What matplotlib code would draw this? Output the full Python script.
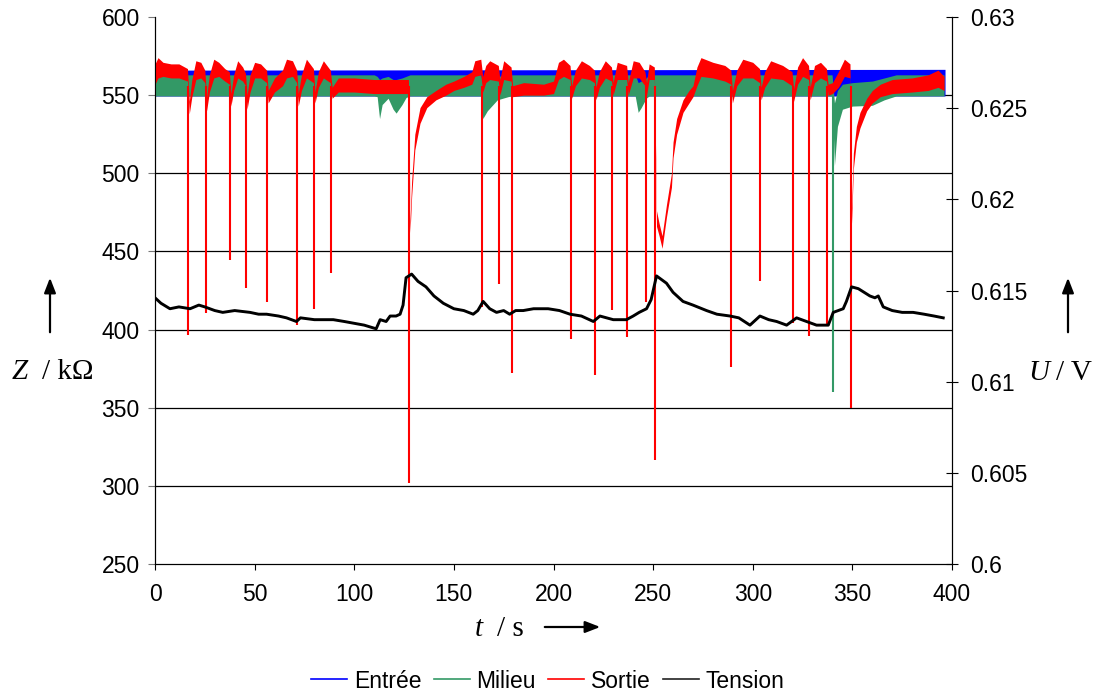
import numpy as np
import matplotlib
matplotlib.use("Agg")
from matplotlib import pyplot as plt

plt.rcParams['font.family'] = ['Liberation Sans', 'DejaVu Sans']

# --- Entree (blue) : dense band
blue_t = [0, 396.5]
blue_lo = [549.5, 549.5]
blue_hi = [566.0, 566.5]

# --- Milieu (green) : dense band with a few dips
green_t = [0, 110, 111.5, 112.7, 114, 117, 119.5, 121, 124, 126, 128,
           163.5, 164.5, 166.8, 171.8, 178.5, 241, 242.5, 244, 246.5, 248,
           339.8, 341, 342.5, 345, 350, 360, 366, 372, 396]
green_lo = [549.5, 549.5, 549, 535, 544, 548, 541, 538.5, 544, 548.5, 549.5,
            549.5, 535, 540, 547, 549.5, 549.5, 539, 542, 548, 549.5,
            549.5, 505, 530, 541, 543, 543.5, 547, 549.5, 549.5]
green_hi = [563, 563, 562, 560, 561, 562, 560, 560, 561, 562, 563,
            563, 558, 560, 562, 563, 563, 558, 559, 561, 563,
            563, 545, 553, 557, 558, 559, 561, 563, 563]
green_spike_t = [340.4]
green_spike_z = [360]

# --- Sortie (red) : band + sharp drops
red_t = [0, 1.5, 4, 8, 12, 16.3, 17.2, 18.5, 20.5, 23, 25.0, 25.9, 27.3, 29.5, 32, 35, 37.3,
         38.1, 39.5, 41.5, 44, 45.4, 46.2, 47.7, 50, 53, 56.0, 56.8, 60, 64, 66, 69, 71.1,
         71.9, 73.5, 76, 79.5, 80.3, 82, 84.5, 88, 88.9, 92, 100, 110, 120, 127.2,
         128.0, 128.8, 130.4, 133, 136.4, 141, 146, 150, 155, 159, 160.5, 163.5,
         164.5, 166, 168, 172.3, 173.1, 175, 178.7, 179.5, 185, 195, 200, 202.5, 205, 208.3,
         209.1, 211, 214, 218, 220.5, 221.3, 223, 226, 229.1, 229.9, 232, 236.7,
         237.5, 240, 243, 245.9, 246.7, 248, 250.6,
         251.7, 253, 254.5, 256.7, 259.2, 260, 261.8, 265, 268, 270, 272, 274, 280, 286, 289,
         289.8, 292, 295, 300, 303.4, 304.2, 306, 309, 315, 319.7, 320.5, 322.5, 325, 328,
         328.8, 331, 334, 337, 337.8, 340, 343, 346, 348.8,
         349.6, 350.5, 352, 353.8, 357.2, 360, 364, 370, 380, 388, 393, 396]
red_lo = [557, 561, 562, 561, 561, 559, 538, 549, 560, 561, 558, 540, 552, 561, 562, 559, 557,
          543, 553, 561, 559, 556, 541, 552, 561, 561, 558, 545, 552, 556, 561, 562, 558,
          543, 553, 561, 558, 545, 555, 561, 558, 548, 552, 552, 551, 551, 551,
          462, 485, 515, 532, 542, 547, 550, 553, 555, 557, 562, 563,
          552, 558, 560, 559, 550, 560, 559, 549, 550, 550, 551, 560, 562, 560,
          548, 556, 561, 560, 558, 547, 555, 561, 559, 550, 560, 560,
          550, 561, 561, 556, 550, 560, 560,
          466, 460, 452, 472, 491, 510, 525, 539, 545, 549, 556, 562, 561, 559, 557,
          545, 556, 561, 561, 558, 547, 555, 561, 560, 556, 546, 557, 562, 560,
          547, 558, 561, 559, 550, 551, 555, 562, 561,
          468, 503, 520, 529, 540, 545, 549, 551, 552, 553, 555, 553]
red_hi = [570, 574, 571, 570, 570, 567, 546, 560, 572, 571, 566, 549, 563, 573, 571, 567, 565,
          551, 563, 572, 568, 564, 550, 563, 571, 570, 566, 553, 561, 566, 573, 572, 566,
          551, 563, 573, 567, 552, 565, 572, 566, 555, 561, 561, 560, 560, 560,
          470, 495, 525, 542, 549, 553, 557, 559, 562, 565, 572, 573,
          562, 569, 572, 569, 560, 572, 568, 556, 558, 557, 559, 571, 573, 569,
          556, 566, 572, 569, 566, 555, 565, 572, 568, 558, 571, 569,
          558, 572, 571, 565, 558, 570, 568,
          476, 468, 460, 480, 500, 520, 535, 547, 553, 556, 568, 574, 571, 569, 566,
          553, 566, 573, 571, 567, 555, 565, 572, 569, 565, 554, 568, 574, 569,
          555, 569, 571, 567, 557, 558, 565, 573, 570,
          478, 513, 530, 539, 548, 553, 557, 560, 561, 563, 566, 562]
red_spike_t = [16.7, 25.4, 37.6, 45.7, 56.2, 71.4, 79.8, 88.3, 127.5, 164.0, 172.6, 179.0,
               208.6, 220.8, 229.4, 237.0, 246.2, 250.9, 289.3, 303.7, 320.0, 328.3, 337.3, 349.1]
red_spike_z = [396.5, 410.8, 444.5, 426.4, 417.8, 403, 413, 436.4, 301.6, 414.6, 429, 372.4,
               393.7, 370.9, 412.5, 395, 417.4, 316.5, 376, 431.3, 404, 395.9, 402.9, 349.8]

# --- Tension (black, right axis)
u_t = [0, 3, 7.5, 12, 17.6, 22, 25, 30, 34, 40, 47.7, 52, 56, 62, 66, 71, 73, 80, 85, 89.5,
       95, 100, 105, 111, 113, 116, 118, 121, 123, 124.5, 126, 128.8, 132, 136, 140, 144.7,
       150, 155, 159.7, 162, 164.7, 168, 171.4, 175, 178, 181, 184.8, 190, 197.3, 203,
       208.3, 214, 220, 223.3, 230, 236.6, 240, 243, 246.7, 249, 251.7, 256.7, 260, 265,
       270, 276.8, 282, 288.6, 293, 298.6, 303.6, 308, 312, 317, 322, 327, 332, 337.9,
       340.4, 345.4, 347, 349.6, 353, 358.8, 361.3, 363, 365.5, 370, 375, 380.5, 386, 391, 395.6]
u_v = [0.6146, 0.6143, 0.6140, 0.6141, 0.6140, 0.6142, 0.6141, 0.6139, 0.6138, 0.6139,
       0.6138, 0.6137, 0.6137, 0.6136, 0.6135, 0.6133, 0.6135, 0.6134, 0.6134, 0.6134,
       0.6133, 0.6132, 0.6131, 0.6129, 0.6134, 0.6133, 0.6136, 0.6136, 0.6137, 0.6142,
       0.6157, 0.6159, 0.6155, 0.6152, 0.6147, 0.6143,
       0.6140, 0.6139, 0.6137, 0.6139, 0.6144, 0.6140, 0.6138, 0.6139, 0.6137, 0.6139,
       0.6139, 0.6140, 0.6140, 0.6139,
       0.6137, 0.6136, 0.6133, 0.6136, 0.6134, 0.6134, 0.6136, 0.6138, 0.6140, 0.6145,
       0.6158, 0.6154, 0.6149, 0.6144,
       0.6142, 0.6139, 0.6137, 0.6136, 0.6135, 0.6131, 0.6136, 0.6134, 0.6133, 0.6131,
       0.6135, 0.6133, 0.6131, 0.6131,
       0.6138, 0.6140, 0.6144, 0.6152, 0.6151, 0.6147, 0.6146, 0.6147, 0.6141, 0.6139,
       0.6138, 0.6138, 0.6137, 0.6136, 0.6135]

BLUE, GREEN, RED = '#0000FF', '#339966', '#FF0000'

fig = plt.figure(figsize=(11.05, 6.95), dpi=100)
ax = fig.add_axes([155/1105, 1-564/695, 797/1105, 547/695])

ax.set_xlim(0, 400)
ax.set_ylim(250, 600)
ax.set_xticks(np.arange(0, 401, 50))
ax.set_yticks(np.arange(250, 601, 50))
for g in ax.get_yticks()[1:-1]:
    ax.axhline(g, color='black', lw=0.9, zorder=0)

ax.fill_between(blue_t, blue_lo, blue_hi, color=BLUE, lw=0, zorder=2)
ax.fill_between(green_t, green_lo, green_hi, color=GREEN, lw=0, zorder=3)
ax.vlines(green_spike_t, green_spike_z, 552, color=GREEN, lw=1.5, zorder=3)
ax.vlines(red_spike_t, red_spike_z, 556, color=RED, lw=1.5, zorder=4)
ax.fill_between(red_t, red_lo, red_hi, color=RED, lw=0, zorder=4)

ax2 = ax.twinx()
ax2.set_ylim(0.6, 0.63)
ax2.set_yticks([0.6, 0.605, 0.61, 0.615, 0.62, 0.625, 0.63])
ax2.set_yticklabels(['0.6', '0.605', '0.61', '0.615', '0.62', '0.625', '0.63'])
ax2.plot(u_t, u_v, color='black', lw=2.1, zorder=5)

for a in (ax, ax2):
    a.spines['top'].set_visible(False)
ax.tick_params(axis='y', direction='out', length=5, pad=6, labelsize=16.5, color='#777777')
ax.tick_params(axis='x', direction='out', length=4, pad=10, labelsize=16.5)
ax2.tick_params(axis='y', direction='inout', length=8, pad=9, labelsize=16.5)

# axis titles with arrows
fig.text(12/1105, 1-379/695, 'Z', family='Liberation Serif', style='italic', fontsize=21, va='baseline')
fig.text(42/1105, 1-379/695, '/ k\u03a9', family='Liberation Serif', fontsize=21, va='baseline')
fig.text(1028/1105, 1-380/695, 'U', family='Liberation Serif', style='italic', fontsize=21, va='baseline')
fig.text(1056/1105, 1-380/695, '/ V', family='Liberation Serif', fontsize=21, va='baseline')
fig.text(475/1105, 1-636/695, 't', family='Liberation Serif', style='italic', fontsize=21, va='baseline')
fig.text(497/1105, 1-636/695, '/ s', family='Liberation Serif', fontsize=21, va='baseline')

arrow = dict(arrowstyle='-|>,head_width=0.35,head_length=0.9', color='black', lw=1.6)
plt.annotate('', xy=(50/1105, 1-275/695), xytext=(50/1105, 1-335/695), xycoords='figure fraction', arrowprops=arrow)
plt.annotate('', xy=(1068/1105, 1-275/695), xytext=(1068/1105, 1-335/695), xycoords='figure fraction', arrowprops=arrow)
plt.annotate('', xy=(603/1105, 1-627/695), xytext=(542/1105, 1-627/695), xycoords='figure fraction', arrowprops=arrow)

handles = [plt.Line2D([], [], color=c, lw=1.2) for c in (BLUE, GREEN, RED, '#222222')]
fig.legend(handles, ['Entrée', 'Milieu', 'Sortie', 'Tension'], loc='center',
           bbox_to_anchor=(548/1105, 1-681/695), ncol=4, frameon=False, fontsize=16.5,
           handlelength=1.55, handletextpad=0.3, columnspacing=0.55)

plt.savefig('out.png', dpi=100)
